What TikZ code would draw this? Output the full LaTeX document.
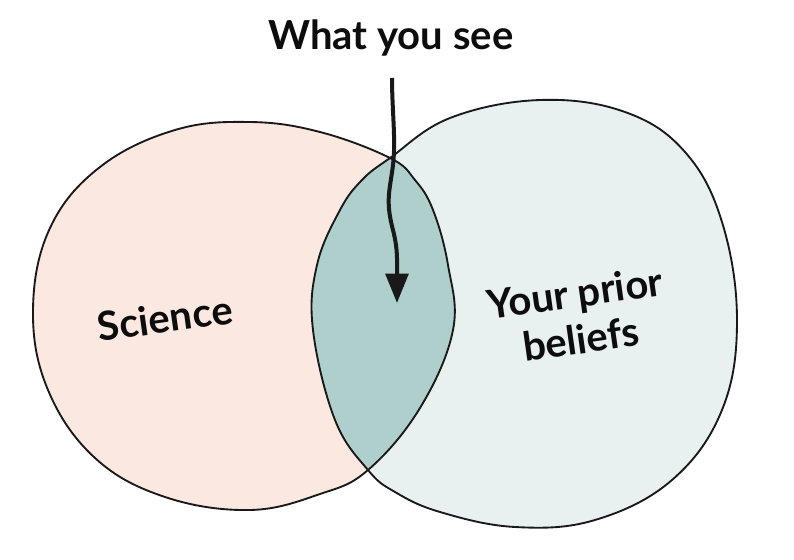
\documentclass[tikz,border=0pt]{standalone}
\usepackage{fontspec}
\setmainfont{Lato}[UprightFont=* Bold]
\usetikzlibrary{arrows.meta}
\begin{document}
\begin{tikzpicture}[x=0.75pt,y=-0.75pt,
  blob/.style={draw=black!90,line width=1.4pt},
  lbl/.style={font=\fontsize{30}{35}\selectfont,align=center,text=black!95},
  arr/.style={draw=black!90,line width=3pt,-{Triangle[length=22pt,width=17pt]}}]
\useasboundingbox (0,0) rectangle (794,560);
\def\leftblob{plot[smooth cycle,tension=0.65] coordinates {(390,158) (320,132) (250,122) (175,130) (100,167) (50,228) (33,310) (48,390) (95,458) (165,497) (250,510) (320,494) (368,470) (420,408) (453,330) (448,265) (433,210) (415,180)}}
\def\rightblob{plot[smooth cycle,tension=0.65] coordinates {(390,158) (450,118) (540,100) (625,112) (685,152) (722,222) (737,320) (722,410) (672,480) (595,520) (515,527) (440,512) (395,492) (368,470) (335,420) (313,330) (317,265) (340,210) (362,180)}}
\fill[fill={rgb,255:red,251;green,233;blue,225}] \leftblob;
\fill[fill={rgb,255:red,232;green,241;blue,239}] \rightblob;
\begin{scope}
\clip \leftblob;
\fill[fill={rgb,255:red,174;green,207;blue,204}] \rightblob;
\end{scope}
\draw[blob] \leftblob;
\draw[blob] \rightblob;
\node[lbl] (title) at (391,38) {What you see};
\node[lbl,rotate=8] (sci) at (165,318) {Science};
\node[lbl,rotate=8] (prior) at (578,316) {Your prior\\beliefs};
\coordinate (start) at (392,78);
\coordinate (tip) at (397,303);
\draw[arr] (start) .. controls (392,110) and (396,140) .. (393,165) .. controls (390,190) and (385,200) .. (393,230) .. controls (398,250) and (397,260) .. (tip);
\end{tikzpicture}
\end{document}
